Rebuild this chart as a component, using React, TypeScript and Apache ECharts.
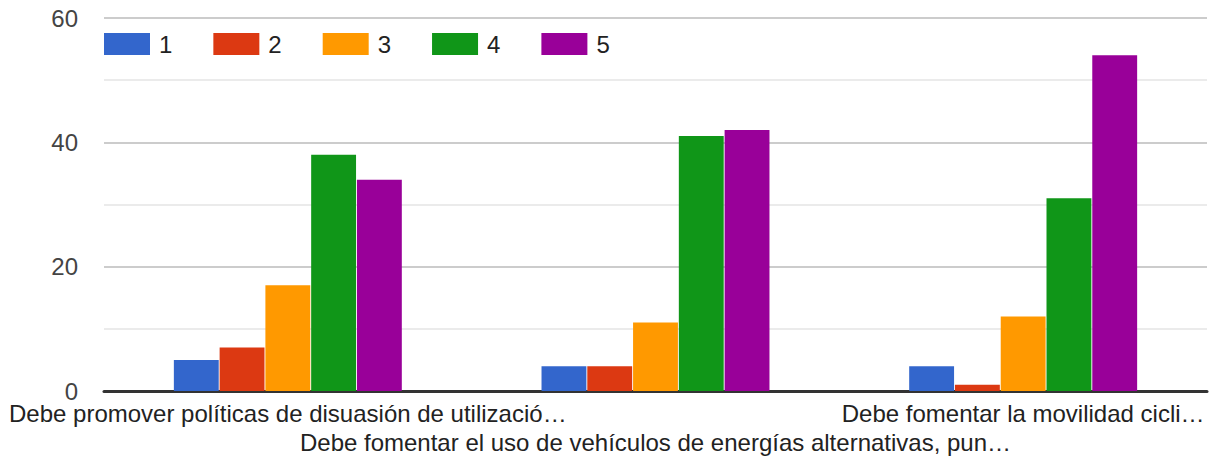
import React, { useEffect, useRef } from "react";
import * as echarts from "echarts";

const categories = [
  "Debe promover políticas de disuasión de utilizació…",
  "Debe fomentar el uso de vehículos de energías alternativas, pun…",
  "Debe fomentar la movilidad cicli…",
];
const seriesNames = ["1", "2", "3", "4", "5"];
const values1 = [5, 4, 4];
const values2 = [7, 4, 1];
const values3 = [17, 11, 12];
const values4 = [38, 41, 31];
const values5 = [34, 42, 54];
const colors = ["#3366cc", "#dc3912", "#ff9900", "#109618", "#990099"];
const yTicks = [0, 20, 40, 60];

export default function App() {
  const ref = useRef<HTMLDivElement>(null);
  useEffect(() => {
    if (!ref.current) return;
    const chart = echarts.init(ref.current, null, { renderer: "svg" });
    const all = [values1, values2, values3, values4, values5];
    const font = "'Liberation Sans', Arial, sans-serif";
    chart.setOption({
      animation: false,
      color: colors,
      textStyle: { fontFamily: font },
      legend: {
        left: 99,
        top: 27,
        itemWidth: 46,
        itemHeight: 22,
        itemGap: 41,
        icon: "rect",
        data: seriesNames,
        textStyle: { fontSize: 24, color: "#222", fontFamily: font, padding: [0, 0, 0, 4] },
      },
      grid: { left: 104, right: 8, top: 18, bottom: 68, containLabel: false },
      xAxis: {
        type: "category",
        data: categories,
        axisTick: { show: false },
        axisLine: { lineStyle: { color: "#333", width: 3 } },
        axisLabel: {
          interval: 0,
          margin: 10,
          color: "#222",
          fontSize: 24,
          fontFamily: font,
          formatter: (v: string, i: number) => (i === 1 ? "{b|" + v + "}" : "{a|" + v + "}"),
          rich: {
            a: { fontSize: 24, color: "#222", fontFamily: font },
            b: { fontSize: 24, color: "#222", fontFamily: font, padding: [29, 0, 0, 0] },
          },
        },
      },
      yAxis: {
        type: "value",
        min: yTicks[0],
        max: yTicks[yTicks.length - 1],
        interval: 20,
        axisLine: { show: false },
        axisTick: { show: false },
        axisLabel: { color: "#444", fontSize: 24, margin: 26, fontFamily: font },
        splitLine: { lineStyle: { color: "#cccccc", width: 2 } },
        minorTick: { show: false, splitNumber: 2 },
        minorSplitLine: { show: true, lineStyle: { color: "#ebebeb", width: 2 } },
      },
      series: seriesNames.map((n, i) => ({
        name: n,
        type: "bar",
        data: all[i],
        barGap: "2%",
        barCategoryGap: "38%",
        itemStyle: { color: colors[i] },
      })),
    });
    return () => chart.dispose();
  }, []);
  return (
    <div
      ref={ref}
      style={{ position: "absolute", left: 0, top: 0, width: 1215, height: 459, background: "#fff" }}
    />
  );
}
